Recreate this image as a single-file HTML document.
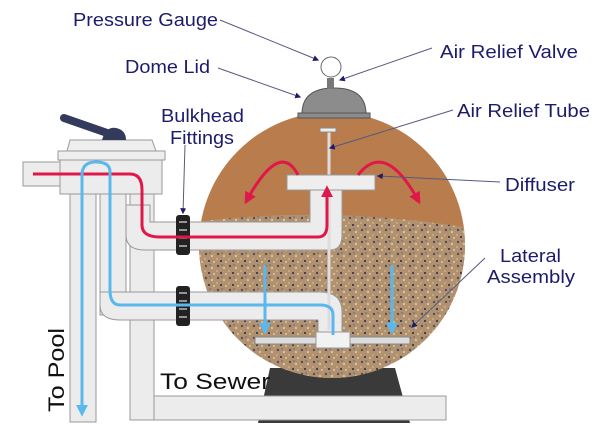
<!DOCTYPE html>
<html><head><meta charset="utf-8"><style>
html,body{margin:0;padding:0;background:#fff;}
svg{display:block}
text{font-family:"Liberation Sans",Arial,sans-serif;}
.lb{fill:#1c1c6b;font-size:18px;}
</style></head><body>
<svg width="600" height="438" viewBox="0 0 600 438" xmlns="http://www.w3.org/2000/svg">
<defs>
<pattern id="sand" width="12" height="12" patternUnits="userSpaceOnUse">
<rect width="12" height="12" fill="#b09272"/>
<circle cx="2" cy="2" r="1.2" fill="#5a4e52"/><circle cx="8" cy="4" r="1.1" fill="#e6c894"/>
<circle cx="5" cy="9" r="1.1" fill="#3e3a48"/><circle cx="10" cy="10" r="1.1" fill="#e0bc86"/>
<circle cx="1" cy="7" r="1" fill="#d4b07c"/><circle cx="6" cy="1" r="0.8" fill="#6c6070"/>
</pattern>
<clipPath id="tk"><circle cx="332" cy="245" r="133"/></clipPath>
<marker id="ab" viewBox="0 0 10 10" refX="8" refY="5" markerWidth="6" markerHeight="6" orient="auto"><path d="M0,0L10,5L0,10z" fill="#1c1c6b"/></marker>
<marker id="ar" viewBox="0 0 10 10" refX="6" refY="5" markerWidth="4" markerHeight="4" orient="auto"><path d="M0,0L10,5L0,10z" fill="#e0184a"/></marker>
<marker id="al" viewBox="0 0 10 10" refX="6" refY="5" markerWidth="4" markerHeight="4" orient="auto"><path d="M0,0L10,5L0,10z" fill="#5ab8ee"/></marker>
</defs>

<path d="M270,368 L395,368 L410,423 L258,423 Z" fill="#3a3a3a"/>
<rect x="130" y="396" width="316" height="24" fill="#ececec" stroke="#999"/>
<circle cx="332" cy="245" r="133" fill="#b97c4c"/>
<g clip-path="url(#tk)">
<path d="M195,222 Q330,205 470,228 L470,390 L195,390 Z" fill="url(#sand)"/>
</g>
<path d="M302,114 Q302,88 334,88 Q366,88 366,114 Z" fill="#8c8c8c" stroke="#555"/>
<rect x="298" y="113" width="72" height="5" fill="#8c8c8c" stroke="#555"/>
<rect x="327" y="78" width="7" height="11" fill="#777"/>
<circle cx="331" cy="67" r="10" fill="#fff" stroke="#666"/>

<rect x="70" y="190" width="26" height="232" fill="#ececec" stroke="#999"/>
<rect x="100" y="190" width="26" height="125" fill="#ececec" stroke="#999"/>
<rect x="130" y="190" width="24" height="230" fill="#ececec" stroke="#999"/>
<path d="M126,205 L126,235 Q126,250 145,250 L330,250 Q342,250 342,235 L342,190 L310,190 L310,222 L150,222 L150,205 Z" fill="#ececec" stroke="#999"/>
<path d="M100,292 L100,305 Q100,320 120,320 L318,320 L318,343 L342,343 L342,312 Q342,292 320,292 Z" fill="#ececec" stroke="#999"/>
<rect x="255" y="337" width="63" height="7" fill="#ddd" stroke="#888"/>
<rect x="347" y="337" width="63" height="7" fill="#ddd" stroke="#888"/>
<rect x="316" y="332" width="34" height="16" fill="#f2f2f2" stroke="#999"/>
<line x1="329" y1="132" x2="329" y2="330" stroke="#ddd" stroke-width="3"/>
<rect x="320" y="128" width="16" height="4" fill="#eee" stroke="#888"/>
<rect x="287" y="175" width="88" height="15" fill="#eee" stroke="#999"/>
<rect x="176" y="215" width="14" height="40" rx="3" fill="#222"/>
<rect x="176" y="286" width="14" height="40" rx="3" fill="#222"/>
<g stroke="#bbb" stroke-width="1.5"><line x1="179" y1="222" x2="187" y2="222"/><line x1="179" y1="230" x2="187" y2="230"/><line x1="179" y1="238" x2="187" y2="238"/><line x1="179" y1="246" x2="187" y2="246"/>
<line x1="179" y1="293" x2="187" y2="293"/><line x1="179" y1="301" x2="187" y2="301"/><line x1="179" y1="309" x2="187" y2="309"/><line x1="179" y1="317" x2="187" y2="317"/></g>

<rect x="23" y="162" width="42" height="24" fill="#ececec" stroke="#999"/>
<rect x="60" y="158" width="102" height="36" fill="#ececec" stroke="#999"/>
<rect x="58" y="151" width="107" height="9" fill="#eee" stroke="#999"/>
<path d="M67,151 L70,140 L152,140 L156,151 Z" fill="#eee" stroke="#999"/>
<line x1="64" y1="118" x2="110" y2="134" stroke="#333a5c" stroke-width="8" stroke-linecap="round"/>
<path d="M102,140 Q106,126 116,128 Q126,130 126,140 Z" fill="#333a5c"/>

<path d="M33,174 L130,174 Q142,174 142,190 L142,225 Q142,237 160,237 L318,237 Q327,237 327,225 L327,190" fill="none" stroke="#e0184a" stroke-width="3" marker-end="url(#ar)"/>
<path d="M298,175 Q280,140 247,200" fill="none" stroke="#e0184a" stroke-width="3" marker-end="url(#ar)"/>
<path d="M358,175 Q385,140 418,200" fill="none" stroke="#e0184a" stroke-width="3" marker-end="url(#ar)"/>
<path d="M333,335 L333,315 Q333,305 320,305 L120,305 Q110,305 110,290 L110,172 Q110,162 96,162 Q82,162 82,175 L82,412" fill="none" stroke="#5ab8ee" stroke-width="3" marker-end="url(#al)"/>
<path d="M265,265 L265,330" stroke="#5ab8ee" stroke-width="3" marker-end="url(#al)"/>
<path d="M392,265 L392,330" stroke="#5ab8ee" stroke-width="3" marker-end="url(#al)"/>

<g stroke="#555a80" stroke-width="1" fill="none">
<line x1="220" y1="20" x2="318" y2="60" marker-end="url(#ab)"/>
<line x1="218" y1="68" x2="300" y2="97" marker-end="url(#ab)"/>
<line x1="432" y1="48" x2="340" y2="80" marker-end="url(#ab)"/>
<line x1="453" y1="110" x2="330" y2="148" marker-end="url(#ab)"/>
<line x1="500" y1="182" x2="378" y2="176" marker-end="url(#ab)"/>
<line x1="185" y1="145" x2="183" y2="213" marker-end="url(#ab)"/>
<line x1="485" y1="258" x2="412" y2="327" marker-end="url(#ab)"/>
</g>

<text class="lb" x="73" y="26" textLength="145" lengthAdjust="spacingAndGlyphs">Pressure Gauge</text>
<text class="lb" x="125" y="73" textLength="85" lengthAdjust="spacingAndGlyphs">Dome Lid</text>
<text class="lb" x="440" y="58" textLength="138" lengthAdjust="spacingAndGlyphs">Air Relief Valve</text>
<text class="lb" x="457" y="117" textLength="133" lengthAdjust="spacingAndGlyphs">Air Relief Tube</text>
<text class="lb" x="505" y="191" textLength="70" lengthAdjust="spacingAndGlyphs">Diffuser</text>
<text class="lb" x="161" y="122" textLength="83" lengthAdjust="spacingAndGlyphs">Bulkhead</text>
<text class="lb" x="170" y="144" textLength="64" lengthAdjust="spacingAndGlyphs">Fittings</text>
<text class="lb" x="500" y="262" textLength="61" lengthAdjust="spacingAndGlyphs">Lateral</text>
<text class="lb" x="487" y="283" textLength="88" lengthAdjust="spacingAndGlyphs">Assembly</text>
<text x="160" y="389" font-size="22" fill="#111" textLength="110" lengthAdjust="spacingAndGlyphs">To Sewer</text>
<text x="0" y="0" font-size="22" fill="#111" transform="translate(64,412) rotate(-90)" textLength="84" lengthAdjust="spacingAndGlyphs">To Pool</text>
</svg>
</body></html>
